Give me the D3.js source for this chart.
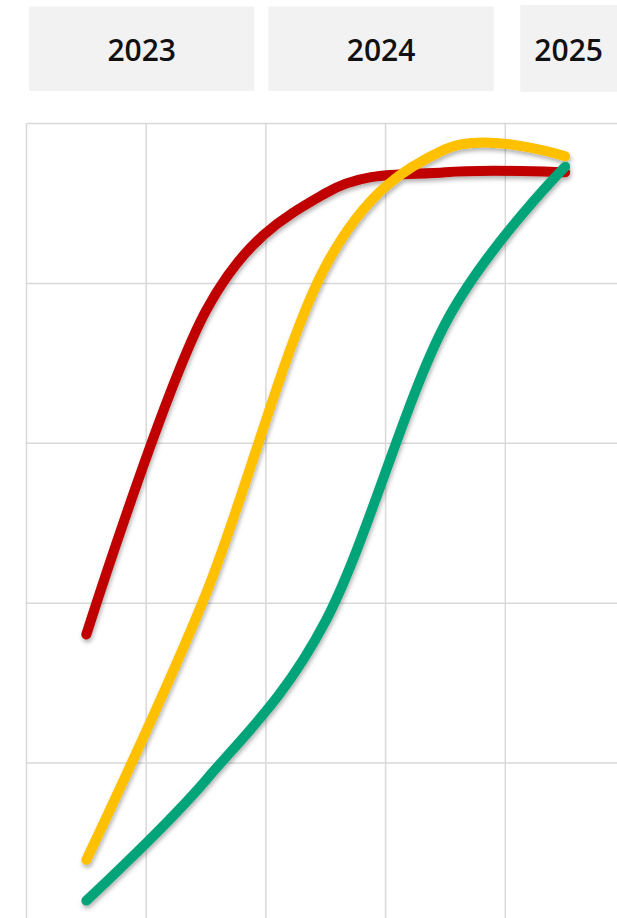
<!DOCTYPE html>
<html>
<head>
<meta charset="utf-8">
<script src="https://cdn.jsdelivr.net/npm/d3@7"></script>
<style>
  html, body { margin: 0; padding: 0; background: #fff; overflow: hidden; }
  svg { display: block; }
</style>
</head>
<body>
<svg id="chart" width="617" height="918"></svg>
<script>
// Half-year periods along the x axis
const periods = ["2023 H1", "2023 H2", "2024 H1", "2024 H2", "2025 H1"];
// Year headers, each covering two periods
const years = ["2023", "2024", "2025"];
const yearStart = [0, 2, 4];
// Horizontal gridline values
const yTicks = [20, 40, 60, 80, 100];

// Series values (percent)
const redValues    = [36.1, 76.6, 91.3, 93.9, 93.9];
const yellowValues = [7.9, 41.2, 82.2, 96.8, 95.9];
const greenValues  = [2.8, 17.9, 37.8, 75.0, 94.6];

const seriesNames  = ["red", "yellow", "green"];
const seriesColors = ["#C00000", "#FFC000", "#00A478"];
const seriesValues = [redValues, yellowValues, greenValues];

const W = 617, H = 918;
const svg = d3.select("#chart");

const x = d3.scaleBand().domain(periods).range([26.5, 625]).paddingInner(0).paddingOuter(0);
const y = d3.scaleLinear().domain([0, 100]).range([923, 123.5]);

const defs = svg.append("defs");
const f = defs.append("filter").attr("id", "shadow")
  .attr("x", "-20%").attr("y", "-20%").attr("width", "140%").attr("height", "140%");
f.append("feDropShadow").attr("dx", 1).attr("dy", 3).attr("stdDeviation", 2)
  .attr("flood-color", "#000").attr("flood-opacity", 0.3);

// Year header boxes
const hdr = svg.append("g").attr("class", "headers");
years.forEach((yr, i) => {
  const s = x(periods[yearStart[i]]);
  const x0 = s + (i === years.length - 1 ? 15 : 2.5);
  const x1 = Math.min(s + 2 * x.step() - 11.5, W + 40);
  const top = i === years.length - 1 ? 5 : 6.5;
  const bot = i === years.length - 1 ? 92 : 91;
  hdr.append("rect").attr("x", x0).attr("y", top).attr("width", x1 - x0).attr("height", bot - top)
    .attr("fill", "#F2F2F2");
  const cx = (x0 + Math.min(x1, W)) / 2;
  hdr.append("text").attr("x", cx).attr("y", 60.5).attr("text-anchor", "middle")
    .attr("font-family", "'Open Sans', sans-serif").attr("font-weight", 600)
    .attr("font-size", 30).attr("fill", "#111").text(yr);
});

// Gridlines
const grid = svg.append("g").attr("class", "grid").attr("stroke", "#D9D9D9").attr("stroke-width", 1.5);
const bounds = periods.map(p => x(p)).concat([x(periods[periods.length - 1]) + x.step()]);
grid.selectAll("line.v").data(bounds).join("line").attr("class", "v")
  .attr("x1", d => d).attr("x2", d => d).attr("y1", y(100)).attr("y2", H);
grid.selectAll("line.h").data(yTicks).join("line").attr("class", "h")
  .attr("x1", bounds[0]).attr("x2", W).attr("y1", d => y(d)).attr("y2", d => y(d));

// Series lines
const line = d3.line()
  .x((d, i) => x(periods[i]) + x.bandwidth() / 2)
  .y(d => y(d))
  .curve(d3.curveCardinal.tension(0));

svg.append("g").attr("class", "series").attr("filter", "url(#shadow)")
  .selectAll("path").data(seriesValues).join("path")
  .attr("d", d => line(d))
  .attr("fill", "none")
  .attr("stroke", (d, i) => seriesColors[i])
  .attr("stroke-width", 10)
  .attr("stroke-linecap", "round")
  .attr("stroke-linejoin", "round");
</script>
</body>
</html>
